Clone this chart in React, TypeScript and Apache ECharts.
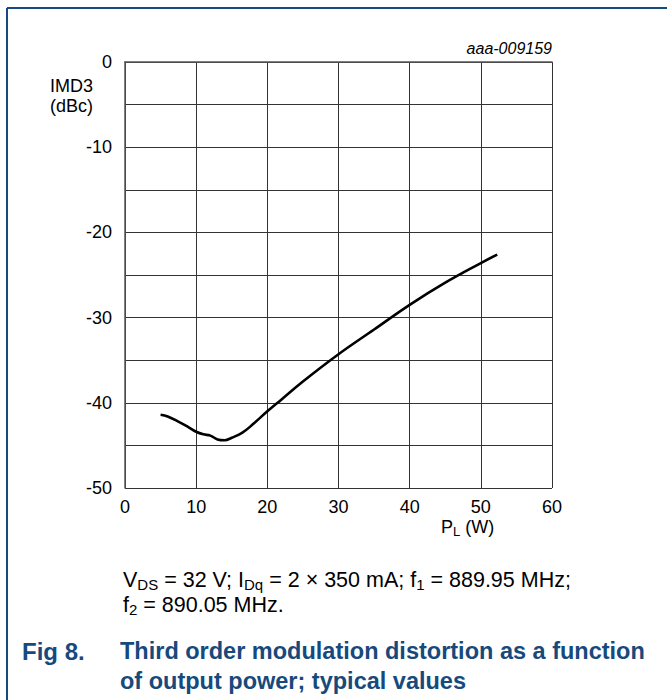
import React, { useEffect, useRef } from "react";
import * as echarts from "echarts";

const xTicks = [0, 10, 20, 30, 40, 50, 60];
const yTicks = [0, -10, -20, -30, -40, -50];
const powerW = [5, 6, 7.5, 9, 10, 11, 12, 13, 14, 15, 16.5, 18, 20, 22, 25, 30, 35, 40, 45, 50, 52.3];
const imd3dBc = [-41.4, -41.6, -42.2, -42.9, -43.4, -43.7, -43.85, -44.3, -44.4, -44.1, -43.5, -42.5, -41.0, -39.6, -37.5, -34.3, -31.4, -28.5, -25.9, -23.6, -22.6];

const FONT = '"Liberation Sans", Arial, sans-serif';
const BLUE = "#174a7c";

export default function App() {
  const ref = useRef<HTMLDivElement>(null);
  useEffect(() => {
    if (!ref.current) return;
    const chart = echarts.init(ref.current, null, { renderer: "svg" });
    const data = powerW.map((x, i) => [x, imd3dBc[i]]);
    chart.setOption({
      animation: false,
      backgroundColor: "#ffffff",
      textStyle: { fontFamily: FONT },
      grid: { left: 125, top: 62, width: 427, height: 426 },
      xAxis: {
        type: "value",
        min: xTicks[0],
        max: xTicks[xTicks.length - 1],
        interval: 10,
        axisLine: { show: true, lineStyle: { color: "#555", width: 1.5 } },
        axisTick: { show: false },
        axisLabel: { color: "#000", fontSize: 18, lineHeight: 16, margin: 11, fontFamily: FONT },
        splitLine: { show: true, lineStyle: { color: "#333", width: 1 } },
      },
      yAxis: {
        type: "value",
        min: yTicks[yTicks.length - 1],
        max: yTicks[0],
        interval: 5,
        axisLine: { show: true, lineStyle: { color: "#555", width: 1.5 } },
        axisTick: { show: false },
        axisLabel: {
          color: "#000",
          fontSize: 18,
          margin: 13,
          fontFamily: FONT,
          formatter: (v: number) => (yTicks.includes(v) ? String(v) : ""),
        },
        splitLine: { show: true, lineStyle: { color: "#333", width: 1 } },
      },
      series: [
        {
          type: "line",
          data,
          smooth: 0.4,
          showSymbol: false,
          lineStyle: { color: "#000", width: 2.6 },
        },
      ],
      graphic: [
        { type: "line", shape: { x1: 7, y1: 8, x2: 667, y2: 8 }, style: { stroke: BLUE, lineWidth: 2 } },
        { type: "line", shape: { x1: 7, y1: 8, x2: 7, y2: 700 }, style: { stroke: BLUE, lineWidth: 2 } },
        {
          type: "text", x: 552, y: 48,
          style: { text: "aaa-009159", font: `italic 16px ${FONT}`, fill: "#000", textAlign: "right", textVerticalAlign: "middle" },
        },
        {
          type: "text", x: 50, y: 86,
          style: { text: "IMD3", font: `18px ${FONT}`, fill: "#000", textVerticalAlign: "middle" },
        },
        {
          type: "text", x: 50, y: 106,
          style: { text: "(dBc)", font: `18px ${FONT}`, fill: "#000", textVerticalAlign: "middle" },
        },
        {
          type: "text", left: 441, top: 515,
          style: {
            text: "{n|P}{s|L}{n| (W)}",
            rich: {
              n: { fontSize: 18, fontFamily: FONT, fill: "#000", lineHeight: 16 },
              s: { fontSize: 13, fontFamily: FONT, fill: "#000", lineHeight: 10, padding: [10, 0, 0, 0] },
            },
          },
        },
        {
          type: "text", left: 123, top: 567,
          style: {
            text: "{n|V}{s|DS}{n| = 32 V; I}{s|Dq}{n| = 2 × 350 mA; f}{s|1}{n| = 889.95 MHz;}\n{n|f}{s|2}{n| = 890.05 MHz.}",
            rich: {
              n: { fontSize: 21.5, fontFamily: FONT, fill: "#000", lineHeight: 25 },
              s: { fontSize: 15, fontFamily: FONT, fill: "#000", lineHeight: 25, padding: [10, 0, 0, 0] },
            },
          },
        },
        {
          type: "text", left: 22, top: 636,
          style: { text: "Fig 8.", font: `bold 24px ${FONT}`, fill: BLUE, lineHeight: 30 },
        },
        {
          type: "text", left: 120, top: 636,
          style: {
            text: "Third order modulation distortion as a function\nof output power; typical values",
            font: `bold 23.5px ${FONT}`, fill: BLUE, lineHeight: 30,
          },
        },
      ],
    });
    return () => chart.dispose();
  }, []);
  return (
    <div
      ref={ref}
      style={{ position: "absolute", left: 0, top: 0, width: 667, height: 700 }}
    />
  );
}
